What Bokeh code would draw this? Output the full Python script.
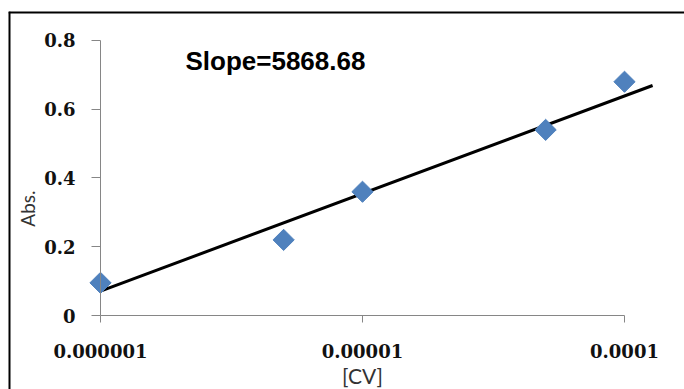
import math
from bokeh.plotting import figure
from bokeh.models import FixedTicker, CustomJSTickFormatter, Label, Range1d, Span
from bokeh.embed import file_html
from bokeh.resources import INLINE

# ---- data ----
conc = [1e-6, 5e-6, 1e-5, 5e-5, 1e-4]
absorb = [0.095, 0.22, 0.36, 0.54, 0.68]
trend_x = [1e-6, 1.28e-4]
trend_y = [0.071, 0.669]
x_ticks = [1e-6, 1e-5, 1e-4]
x_tick_labels = ["0.000001", "0.00001", "0.0001"]
y_ticks = [0, 0.2, 0.4, 0.6, 0.8]
y_tick_labels = ["0", "0.2", "0.4", "0.6", "0.8"]
x_title = "[CV]"
y_title = "Abs."
slope_text = "Slope=5868.68"

x0 = 10 ** -6.35115
x1 = 10 ** -3.77099
y0 = -0.21527
y1 = 0.88436

p = figure(width=684, height=389, x_axis_type="log",
           x_range=Range1d(x0, x1), y_range=Range1d(y0, y1),
           output_backend="svg", toolbar_location=None,
           min_border_left=8, min_border_top=11,
           min_border_right=0, min_border_bottom=0)
p.background_fill_color = "white"
p.border_fill_color = "white"
p.outline_line_color = None
p.grid.visible = False

# chart-area border (left and top sides visible)
p.add_layout(Span(location=x0, dimension="height", line_color="black", line_width=4))
p.add_layout(Span(location=y1, dimension="width", line_color="black", line_width=4))

fmt_js = """
let b = 0; let best = 1e300;
for (let i = 0; i < tv.length; i++) {
  const dd = uselog ? Math.abs(Math.log10(tv[i]) - Math.log10(tick)) : Math.abs(tv[i] - tick);
  if (dd < best) { best = dd; b = i; }
}
return lv[b];
"""
xa = p.xaxis[0]
xa.fixed_location = 0
xa.bounds = (x_ticks[0], x_ticks[-1])
xa.ticker = FixedTicker(ticks=x_ticks, minor_ticks=[])
xa.formatter = CustomJSTickFormatter(args=dict(tv=x_ticks, lv=x_tick_labels, uselog=True), code=fmt_js)
xa.axis_label = x_title

ya = p.yaxis[0]
ya.fixed_location = x_ticks[0]
ya.bounds = (y_ticks[0], y_ticks[-1])
ya.ticker = FixedTicker(ticks=y_ticks, minor_ticks=[])
ya.formatter = CustomJSTickFormatter(args=dict(tv=y_ticks, lv=y_tick_labels, uselog=False), code=fmt_js)

for ax in (xa, ya):
    ax.axis_line_color = "#868686"
    ax.axis_line_width = 1
    ax.major_tick_line_color = "#868686"
    ax.major_tick_in = 0
    ax.minor_tick_line_color = None
    ax.major_label_text_font = "DejaVu Serif"
    ax.major_label_text_font_style = "bold"
    ax.major_label_text_font_size = "18px"
    ax.major_label_text_color = "#111111"
    ax.axis_label_text_font = "Lato"
    ax.axis_label_text_font_style = "normal"
    ax.axis_label_text_font_size = "21px"
    ax.axis_label_text_color = "#333333"

xa.major_tick_out = 7
xa.major_label_standoff = 21
xa.axis_label_standoff = 2
ya.major_tick_out = 9
ya.major_label_standoff = 16

# y-axis title placed beside the axis, centred as in the reference
p.add_layout(Label(x=10 ** -6.2786, y=0.311, text=y_title, angle=math.pi / 2,
                   text_font="Lato", text_font_size="19px", text_color="#333333",
                   text_align="center", text_baseline="middle"))

# trend line and points
p.line(trend_x, trend_y, line_color="black", line_width=3)
p.scatter(conc, absorb, marker="square", angle=math.pi / 4, size=15,
          fill_color="#4F81BD", line_color="#4F81BD")

p.add_layout(Label(x=2.11e-6, y=0.739, text=slope_text, text_font="Liberation Sans",
                   text_font_style="bold", text_font_size="26px", text_color="black",
                   text_baseline="alphabetic"))

open("out.html", "w").write(file_html(p, INLINE))
